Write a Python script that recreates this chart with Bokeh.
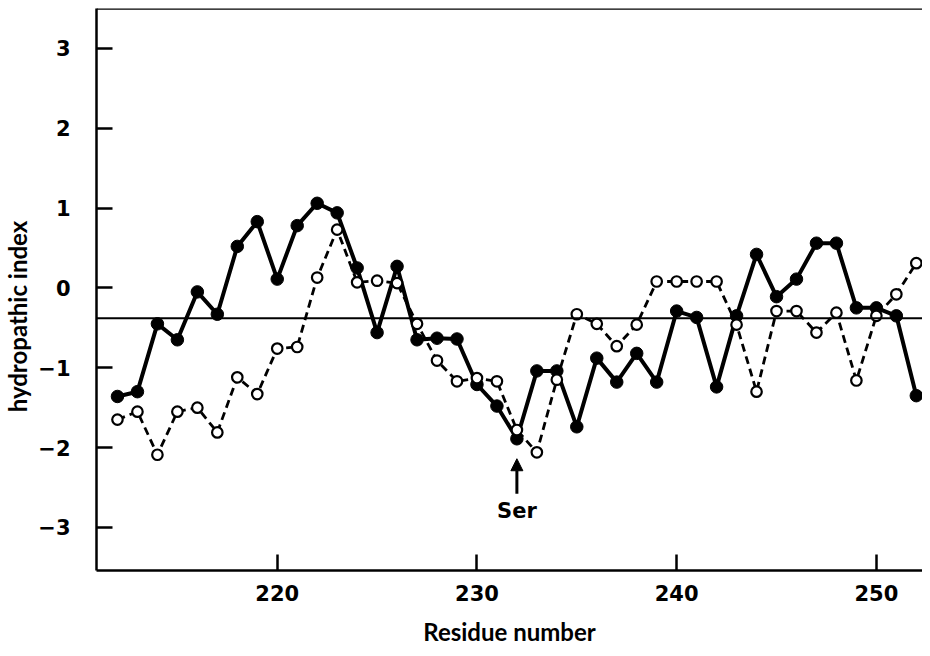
from bokeh.plotting import figure
from bokeh.models import Span, Arrow, NormalHead, Range1d, FixedTicker, Label
from bokeh.embed import file_html
from bokeh.resources import INLINE

residues = list(range(212, 253))
filled_index = [-1.36, -1.30, -0.45, -0.65, -0.05, -0.33, 0.52, 0.83, 0.11, 0.78,
                1.06, 0.94, 0.25, -0.56, 0.27, -0.65, -0.63, -0.64, -1.21, -1.48,
                -1.89, -1.04, -1.04, -1.74, -0.88, -1.18, -0.82, -1.18, -0.29, -0.37,
                -1.24, -0.35, 0.42, -0.11, 0.11, 0.56, 0.56, -0.25, -0.25, -0.35, -1.35]
open_index = [-1.65, -1.55, -2.09, -1.55, -1.50, -1.81, -1.12, -1.33, -0.76, -0.74,
              0.13, 0.73, 0.07, 0.09, 0.06, -0.45, -0.91, -1.17, -1.13, -1.17,
              -1.78, -2.06, -1.15, -0.33, -0.45, -0.73, -0.46, 0.08, 0.08, 0.08,
              0.08, -0.46, -1.30, -0.29, -0.29, -0.56, -0.31, -1.16, -0.35, -0.08, 0.31]
mean_level = -0.38
x_ticks = [220, 230, 240, 250]
y_ticks = [-3, -2, -1, 0, 1, 2, 3]
ser_residue = 232
ser_label = "Ser"
x_title = "Residue number"
y_title = "hydropathic index"

TICK_FONT = "DejaVu Sans"
TITLE_FONT = "Lato"

p = figure(width=922, height=648, output_backend="svg", toolbar_location=None,
           x_range=Range1d(210.95, 252.31), y_range=Range1d(-3.54, 3.5),
           min_border_left=96, min_border_right=0, min_border_top=8, min_border_bottom=77)
p.outline_line_color = None
p.grid.visible = False
p.background_fill_color = "white"
p.border_fill_color = "white"

for ax in (p.xaxis[0], p.yaxis[0]):
    ax.axis_line_width = 2.5
    ax.axis_line_color = "black"
    ax.major_tick_in = 16
    ax.major_tick_out = 0
    ax.major_tick_line_width = 2.5
    ax.minor_tick_line_color = None
    ax.major_label_text_font = TICK_FONT
    ax.major_label_text_font_style = "bold"
    ax.major_label_text_font_size = "21px"
    ax.major_label_text_color = "black"
    ax.axis_label_text_font = TITLE_FONT
    ax.axis_label_text_font_style = "bold"
    ax.axis_label_text_font_size = "24px"
    ax.axis_label_text_color = "black"

p.xaxis.ticker = FixedTicker(ticks=x_ticks)
p.yaxis.ticker = FixedTicker(ticks=y_ticks)
p.xaxis.axis_label = x_title
p.xaxis.major_label_standoff = 14
p.xaxis.axis_label_standoff = 13
p.yaxis.major_label_standoff = 26
# y title sits lower than the frame centre in the original: pad its top end with spaces
p.yaxis.axis_label = y_title + "\u2003\u2003\u2003"
p.yaxis.axis_label_standoff = 3

# top frame line
p.add_layout(Span(location=3.5, dimension="width", line_color="black", line_width=2.5))
# mean level line
p.add_layout(Span(location=mean_level, dimension="width", line_color="black", line_width=2))

p.line(residues, open_index, line_color="black", line_width=2.8, line_dash="8 5")
p.line(residues, filled_index, line_color="black", line_width=4)
p.scatter(residues, filled_index, size=12.5, fill_color="black", line_color="black")
p.scatter(residues, open_index, size=10.5, fill_color="white", line_color="black", line_width=2.2)

p.add_layout(Arrow(end=NormalHead(size=12, fill_color="black", line_color="black"),
                   x_start=ser_residue, y_start=-2.58, x_end=ser_residue, y_end=-2.14,
                   line_width=3, line_color="black"))
p.add_layout(Label(x=ser_residue, y=-2.79, text=ser_label, text_align="center",
                   text_baseline="middle", text_font=TICK_FONT, text_font_style="bold",
                   text_font_size="21px", text_color="black"))

open("out.html", "w").write(file_html(p, INLINE))
